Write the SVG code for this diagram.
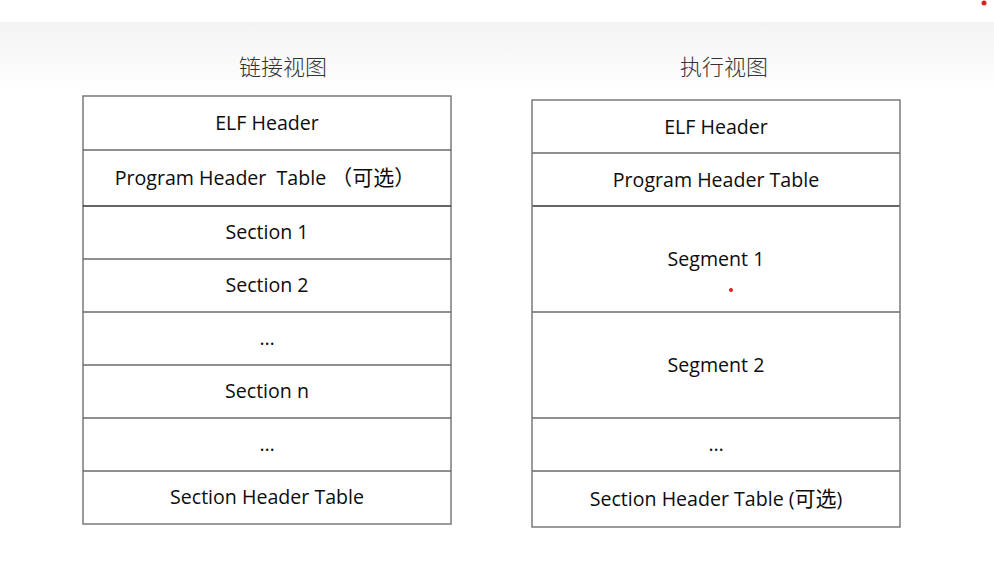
<svg xmlns="http://www.w3.org/2000/svg" width="994" height="571" viewBox="0 0 994 571">
<defs>
<linearGradient id="band" x1="0" y1="0" x2="0" y2="1">
<stop offset="0" stop-color="#f3f3f3"/>
<stop offset="1" stop-color="#ffffff"/>
</linearGradient>
</defs>
<style>
.box{fill:none;stroke:#7a7a7a;stroke-width:1.5}
.ln{stroke:#6a6a6a;stroke-width:1.5}
.lnd{stroke:#333333;stroke-width:1.5}
.t{font-family:"Open Sans","Noto Sans CJK SC",sans-serif;font-size:19.6px;fill:#0d0d0d;text-anchor:middle}
.cj{font-family:"Noto Sans CJK SC",sans-serif;font-size:21px}
.h{font-family:"Noto Sans CJK SC",sans-serif;font-size:22px;font-weight:300;fill:#333333;text-anchor:middle}
</style>
<rect x="0" y="0" width="994" height="571" fill="#ffffff"/>
<rect x="0" y="22" width="994" height="70" fill="url(#band)"/>
<circle cx="984" cy="3" r="2.5" fill="#e02020"/>
<text class="h" x="283" y="75">链接视图</text>
<text class="h" x="724" y="75">执行视图</text>
<g id="link-view">
<rect class="box" x="83" y="96" width="368" height="428"/>
<g id="connectors">
<line class="ln" x1="83" y1="150" x2="451" y2="150"/>
<line class="lnd" x1="83" y1="206" x2="451" y2="206"/>
<line class="ln" x1="83" y1="259" x2="451" y2="259"/>
<line class="ln" x1="83" y1="312" x2="451" y2="312"/>
<line class="ln" x1="83" y1="365" x2="451" y2="365"/>
<line class="ln" x1="83" y1="418" x2="451" y2="418"/>
<line class="ln" x1="83" y1="471" x2="451" y2="471"/>
<line class="ln" x1="532" y1="153" x2="900" y2="153"/>
<line class="lnd" x1="532" y1="206" x2="900" y2="206"/>
<line class="ln" x1="532" y1="312" x2="900" y2="312"/>
<line class="ln" x1="532" y1="418" x2="900" y2="418"/>
<line class="ln" x1="532" y1="471" x2="900" y2="471"/>
</g>
<text class="t" x="267" y="130">ELF Header</text>
<text class="t" x="265" y="185" xml:space="preserve">Program Header  Table <tspan class="cj">（可选）</tspan></text>
<text class="t" x="267" y="239">Section 1</text>
<text class="t" x="267" y="292">Section 2</text>
<text class="t" x="267" y="345">…</text>
<text class="t" x="267" y="398">Section n</text>
<text class="t" x="267" y="451">…</text>
<text class="t" x="267" y="504">Section Header Table</text>
</g>
<g id="exec-view">
<rect class="box" x="532" y="100" width="368" height="427"/>
<text class="t" x="716" y="134">ELF Header</text>
<text class="t" x="716" y="187">Program Header Table</text>
<text class="t" x="716" y="266">Segment 1</text>
<text class="t" x="716" y="372">Segment 2</text>
<text class="t" x="716" y="451">…</text>
<text class="t" x="716" y="506">Section Header Table (<tspan class="cj">可选</tspan>)</text>
</g>
<circle cx="731" cy="290" r="2" fill="#e02020"/>
</svg>
